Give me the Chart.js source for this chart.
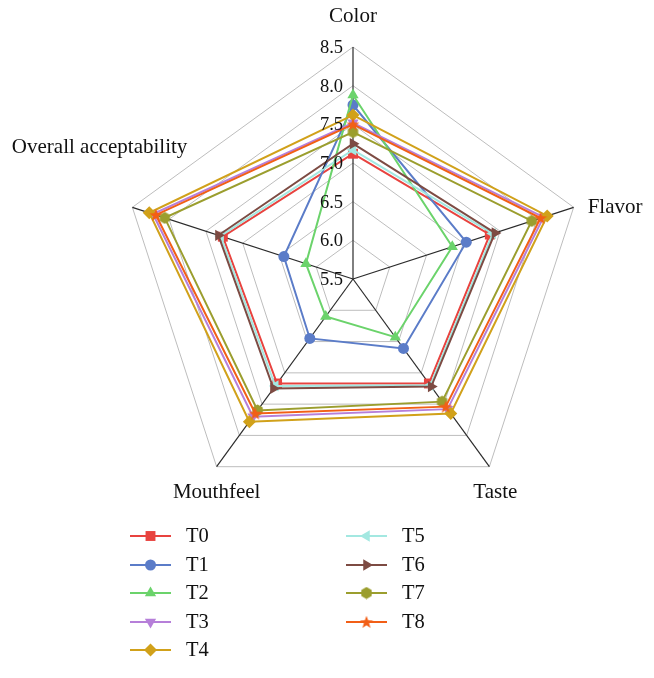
<!DOCTYPE html>
<html lang="en">
<head>
  <meta charset="UTF-8">
  <title>Sensory Radar</title>
  <script src="https://cdn.jsdelivr.net/npm/chart.js"></script>
  <style>
    body { margin: 0; background: #fff; }
    #wrap { width: 654px; height: 678px; }
  </style>
</head>
<body>
  <div id="wrap"><canvas id="radar" width="654" height="678"></canvas></div>

  <script>
    const axes = ["Color", "Flavor", "Taste", "Mouthfeel", "Overall acceptability"];
    const ticksList = [5.5, 6.0, 6.5, 7.0, 7.5, 8.0, 8.5];

    const T0 = [7.12, 7.36, 7.17, 7.17, 7.27];
    const T1 = [7.75, 7.04, 6.61, 6.45, 6.44];
    const T2 = [7.88, 6.85, 6.43, 6.10, 6.14];
    const T3 = [7.52, 8.09, 7.58, 7.70, 8.22];
    const T4 = [7.62, 8.14, 7.65, 7.78, 8.27];
    const T5 = [7.17, 7.40, 7.20, 7.21, 7.30];
    const T6 = [7.25, 7.43, 7.22, 7.25, 7.33];
    const T7 = [7.40, 7.93, 7.46, 7.60, 8.06];
    const T8 = [7.50, 8.05, 7.54, 7.65, 8.18];

    const names = ["T0", "T1", "T2", "T3", "T4", "T5", "T6", "T7", "T8"];
    const series = [T0, T1, T2, T3, T4, T5, T6, T7, T8];
    const colors = ["#e8433f", "#5b7cc8", "#6bd36b", "#b67fd9", "#d1a11a",
                    "#a3e8e1", "#7d4b43", "#9b9e2e", "#f25f16"];

    const serif = "'Liberation Serif', 'Times New Roman', serif";

    // small canvases for the marker shapes Chart.js lacks
    function hexImg(color) {
      const c = document.createElement("canvas");
      c.width = 13; c.height = 13;
      const g = c.getContext("2d");
      g.fillStyle = color;
      g.beginPath();
      for (let k = 0; k < 6; k++) {
        const a = Math.PI / 2 + k * Math.PI / 3;
        g.lineTo(6.5 + 6 * Math.cos(a), 6.5 + 6 * Math.sin(a));
      }
      g.closePath();
      g.fill();
      return c;
    }
    function starImg(color) {
      const c = document.createElement("canvas");
      c.width = 14; c.height = 14;
      const g = c.getContext("2d");
      g.fillStyle = color;
      g.beginPath();
      for (let k = 0; k < 10; k++) {
        const r = k % 2 ? 2.8 : 6.8;
        const a = -Math.PI / 2 + k * Math.PI / 5;
        g.lineTo(7 + r * Math.cos(a), 7.5 + r * Math.sin(a));
      }
      g.closePath();
      g.fill();
      return c;
    }

    const styles = ["rect", "circle", "triangle", "triangle", "rectRot",
                    "triangle", "triangle", hexImg(colors[7]), starImg(colors[8])];
    const rotations = [0, 0, 0, 180, 0, 270, 90, 0, 0];
    const radii = [7, 5.5, 6.5, 6.5, 6.5, 6.5, 6.5, 6, 6];

    const datasets = names.map((n, i) => ({
      label: n,
      data: series[i],
      borderColor: colors[i],
      backgroundColor: colors[i],
      pointBackgroundColor: colors[i],
      pointBorderColor: colors[i],
      pointBorderWidth: 0,
      borderWidth: 2,
      fill: false,
      pointStyle: styles[i],
      pointRotation: rotations[i],
      pointRadius: radii[i],
      order: 8 - i
    }));

    // tick labels left of the vertical axis, point labels, and the legend
    const decor = {
      id: "decor",
      afterDraw(chart) {
        const ctx = chart.ctx;
        const s = chart.scales.r;
        ctx.save();
        ctx.fillStyle = "#111";
        ctx.font = "18.5px " + serif;
        ctx.textAlign = "right";
        ctx.textBaseline = "middle";
        ticksList.forEach(v => {
          const p = s.getPointPositionForValue(0, v);
          ctx.fillText(v.toFixed(1), p.x - 10, p.y + 1);
        });

        const R = s.drawingArea;
        ctx.font = "21px " + serif;
        const lab = [
          { dx: 0, dy: -31, align: "center" },
          { dx: 14, dy: 0, align: "left" },
          { dx: 6, dy: 26, align: "center" },
          { dx: 0, dy: 26, align: "center" },
          { dx: 55, dy: -60, align: "right" }
        ];
        axes.forEach((a, i) => {
          const p = s.getPointPosition(i, R);
          ctx.textAlign = lab[i].align;
          ctx.fillText(a, p.x + lab[i].dx, p.y + lab[i].dy);
        });

        // legend, two columns
        ctx.font = "20.5px " + serif;
        ctx.textAlign = "left";
        const colX = [130, 346];
        const rowY = [536, 565, 593, 622, 650];
        const H = Chart.helpers;
        names.forEach((n, i) => {
          const col = i < 5 ? 0 : 1;
          const row = i < 5 ? i : i - 5;
          const x = colX[col], y = rowY[row];
          ctx.strokeStyle = colors[i];
          ctx.fillStyle = colors[i];
          ctx.lineWidth = 2;
          ctx.beginPath();
          ctx.moveTo(x, y);
          ctx.lineTo(x + 41, y);
          ctx.stroke();
          if (H && H.drawPoint) {
            H.drawPoint(ctx, {
              pointStyle: styles[i], rotation: rotations[i],
              radius: radii[i], borderWidth: 0
            }, x + 20.5, y);
          }
          ctx.fillStyle = "#111";
          ctx.fillText(n, x + 56, y + 1);
        });
        ctx.restore();
      }
    };

    new Chart(document.getElementById("radar"), {
      type: "radar",
      data: { labels: axes, datasets: datasets },
      options: {
        responsive: false,
        animation: false,
        layout: { padding: { left: 121, right: 69, top: 47, bottom: 167 } },
        elements: { line: { tension: 0 } },
        plugins: { legend: { display: false }, tooltip: { enabled: false } },
        scales: {
          r: {
            min: 5.5,
            max: 8.5,
            ticks: { display: false, stepSize: 0.5 },
            pointLabels: { display: false },
            grid: { color: "#bdbdbd", lineWidth: 1 },
            angleLines: { color: "#2b2b2b", lineWidth: 1.2 }
          }
        }
      },
      plugins: [decor]
    });
  </script>
</body>
</html>
